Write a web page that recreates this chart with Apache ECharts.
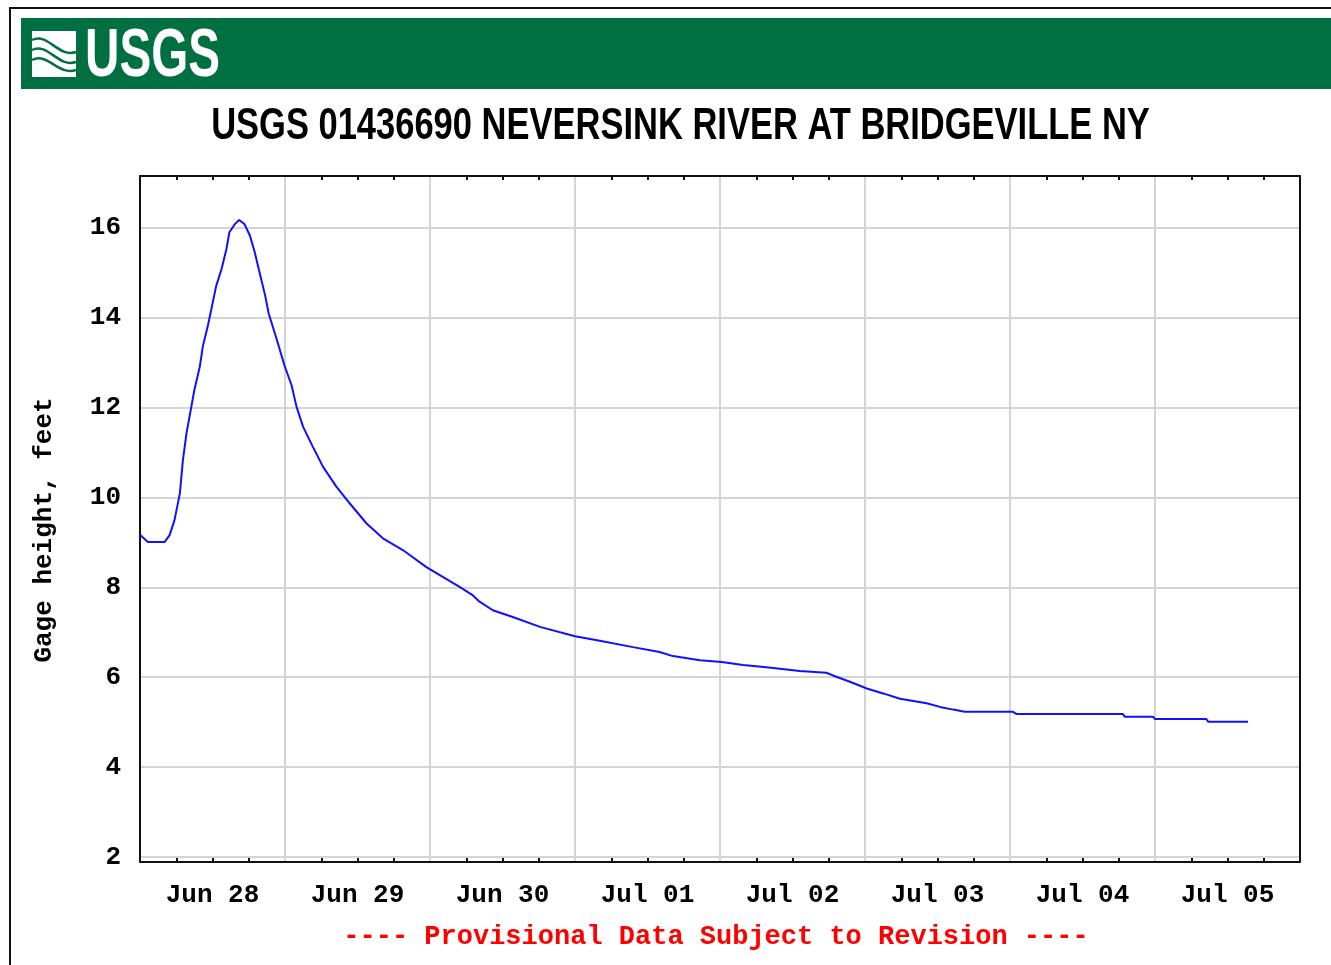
<!DOCTYPE html>
<html>
<head>
<meta charset="utf-8">
<script src="https://cdn.jsdelivr.net/npm/echarts@6/dist/echarts.min.js"></script>
<style>
html,body{margin:0;padding:0;background:#fff;}
#chart{width:1331px;height:965px;}
</style>
</head>
<body>
<div id="chart"></div>
<script>
// Hours since Jun 28 00:00
const hours = [0, 1.3, 4.1, 4.9, 5.7, 6.6, 7.1, 7.7, 8.5, 9.0, 9.9, 10.4, 11.2, 11.8, 12.6, 13.5, 14.3, 14.8, 15.7, 16.4,
  17.3, 18.2, 19.0, 19.8, 20.7, 21.3, 22.6, 23.9, 25.1, 25.9, 27.0, 28.6, 30.3, 32.5, 34.7, 37.5, 40.2, 43.5, 47.4,
  52.9, 55.1, 56.2, 58.4, 61.7, 66.2, 72.0, 76.1, 81.6, 86.0, 88.2, 92.7, 96.3, 99.8, 103.7, 109.2, 113.6, 114.7,
  117.5, 120.3, 123.0, 125.8, 128.0, 130.2, 132.4, 134.6, 136.5, 144.5, 145.1, 162.7, 163.0, 167.7, 168.0, 176.5, 176.8, 183.4];
// Gage height, feet
const gageHeight = [9.17, 9.01, 9.01, 9.16, 9.49, 10.09, 10.83, 11.43, 12.02, 12.39, 12.91, 13.36, 13.80, 14.18, 14.70, 15.08, 15.52, 15.90, 16.08, 16.17,
  16.08, 15.82, 15.45, 15.00, 14.50, 14.09, 13.53, 12.94, 12.49, 12.02, 11.57, 11.13, 10.68, 10.24, 9.87, 9.42, 9.09, 8.83, 8.45,
  8.01, 7.82, 7.68, 7.49, 7.34, 7.12, 6.91, 6.81, 6.67, 6.56, 6.47, 6.38, 6.34, 6.27, 6.22, 6.14, 6.10, 6.04,
  5.90, 5.75, 5.64, 5.52, 5.47, 5.42, 5.34, 5.28, 5.23, 5.23, 5.18, 5.18, 5.12, 5.12, 5.07, 5.07, 5.01, 5.01];
const dayLabels = ['Jun 28', 'Jun 29', 'Jun 30', 'Jul 01', 'Jul 02', 'Jul 03', 'Jul 04', 'Jul 05'];
const yTicks = [2, 4, 6, 8, 10, 12, 14, 16];
const minorTicks = [];
for (let d = 0; d < 8; d++) { [6, 12, 18].forEach(h => minorTicks.push(d * 24 + h)); }

const titleText = 'USGS 01436690 NEVERSINK RIVER AT BRIDGEVILLE NY';
const noteText = '---- Provisional Data Subject to Revision ----';
const yName = 'Gage height, feet';

const mono = '"Liberation Mono", "DejaVu Sans Mono", monospace';
const chart = echarts.init(document.getElementById('chart'), null, {renderer: 'canvas'});

const seriesData = hours.map((h, i) => [h, gageHeight[i]]);

chart.setOption({
  animation: false,
  backgroundColor: '#fff',
  grid: {left: 140, top: 176, right: 31, bottom: 103, containLabel: false},
  xAxis: [
    {type: 'value', position: 'bottom', min: 0, max: 192, interval: 24,
      axisLine: {show: true, onZero: false, lineStyle: {color: '#111', width: 2}},
      axisTick: {show: false}, axisLabel: {show: false},
      splitLine: {show: true, lineStyle: {color: '#d4d4d4', width: 2}}},
    {type: 'value', position: 'bottom', min: 0, max: 192, interval: 12,
      axisLine: {show: false, onZero: false},
      axisTick: {show: true, inside: true, length: 4, customValues: minorTicks, lineStyle: {color: '#111', width: 2}},
      axisLabel: {show: true, margin: 20, color: '#000', fontFamily: mono, fontWeight: 'bold', fontSize: 26,
        formatter: v => (v % 24 === 12 ? dayLabels[(v - 12) / 24] : '')},
      splitLine: {show: false}},
    {type: 'value', position: 'top', min: 0, max: 192, interval: 12,
      axisLine: {show: true, onZero: false, lineStyle: {color: '#111', width: 2}},
      axisTick: {show: true, inside: true, length: 4, customValues: minorTicks, lineStyle: {color: '#111', width: 2}},
      axisLabel: {show: false}, splitLine: {show: false}}
  ],
  yAxis: [
    {type: 'value', position: 'left', min: 1.89, max: 17.15,
      axisLine: {show: true, onZero: false, lineStyle: {color: '#111', width: 2}},
      axisTick: {show: false, customValues: yTicks},
      axisLabel: {show: true, customValues: yTicks, margin: 19, color: '#000', fontFamily: mono, fontWeight: 'bold', fontSize: 26,
        padding: [4, 0, 0, 0]},
      splitLine: {show: true, lineStyle: {color: '#d4d4d4', width: 2}}},
    {type: 'value', position: 'right', min: 1.89, max: 17.15,
      axisLine: {show: true, onZero: false, lineStyle: {color: '#111', width: 2}},
      axisTick: {show: false}, axisLabel: {show: false}, splitLine: {show: false}}
  ],
  series: [{
    type: 'line', xAxisIndex: 0, yAxisIndex: 0, data: seriesData,
    showSymbol: false, symbol: 'none', smooth: false,
    lineStyle: {color: '#1010ff', width: 2}
  }],
  graphic: [
    {type: 'rect', shape: {x: 10, y: 8, width: 1400, height: 1000}, style: {fill: null, stroke: '#111', lineWidth: 2}, z: 100, silent: true},
    {type: 'rect', shape: {x: 21, y: 18, width: 1320, height: 71}, style: {fill: '#006F41'}, z: 100, silent: true},
    {type: 'rect', shape: {x: 32, y: 31, width: 44, height: 46}, style: {fill: '#ffffff'}, z: 101, silent: true},
    {type: 'bezierCurve', shape: {x1: 32, y1: 40, x2: 76, y2: 52, cpx1: 48, cpy1: 32, cpx2: 58, cpy2: 58}, style: {stroke: '#006F41', lineWidth: 2.5, fill: null}, z: 102, silent: true},
    {type: 'bezierCurve', shape: {x1: 32, y1: 50, x2: 76, y2: 62, cpx1: 48, cpy1: 42, cpx2: 58, cpy2: 68}, style: {stroke: '#006F41', lineWidth: 2.5, fill: null}, z: 102, silent: true},
    {type: 'bezierCurve', shape: {x1: 32, y1: 60, x2: 76, y2: 70, cpx1: 48, cpy1: 52, cpx2: 58, cpy2: 76}, style: {stroke: '#006F41', lineWidth: 2.5, fill: null}, z: 102, silent: true},
    {type: 'text', x: 85, y: 57, scaleX: 0.69, z: 102, silent: true,
      style: {text: 'USGS', fill: '#fff', font: 'bold 69px "Liberation Sans", Arial, sans-serif', textAlign: 'left', textVerticalAlign: 'middle'}},
    {type: 'text', x: 680.5, y: 127, scaleX: 0.784, z: 102, silent: true,
      style: {text: titleText, fill: '#000', font: 'bold 44px "Liberation Sans", Arial, sans-serif', textAlign: 'center', textVerticalAlign: 'middle'}},
    {type: 'text', x: 44, y: 530, rotation: Math.PI / 2, z: 102, silent: true,
      style: {text: yName, fill: '#000', font: 'bold 26px ' + mono, textAlign: 'center', textVerticalAlign: 'middle'}},
    {type: 'text', x: 716, y: 937, z: 102, silent: true,
      style: {text: noteText, fill: '#ff0000', font: 'bold 27px ' + mono, textAlign: 'center', textVerticalAlign: 'middle'}}
  ]
});
</script>
</body>
</html>
